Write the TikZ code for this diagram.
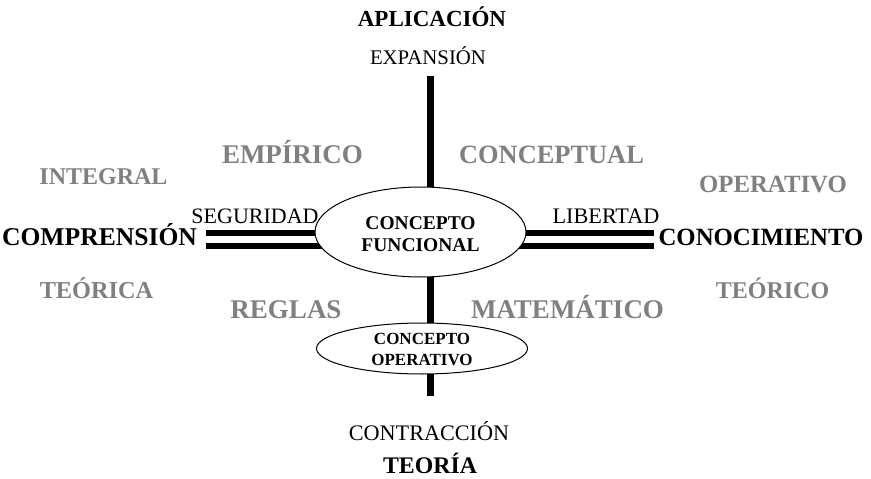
\documentclass[tikz,border=0pt]{standalone}
\usepackage{fontspec}
\setmainfont{Liberation Serif}
\usetikzlibrary{shapes.geometric,backgrounds}
\definecolor{labelgray}{RGB}{128,128,128}

\begin{document}
\begin{tikzpicture}[x=1pt,y=-1pt,
    pole/.style={anchor=base,font=\bfseries\fontsize{#1}{#1}\selectfont},
    plain word/.style={anchor=base,font=\fontsize{#1}{#1}\selectfont},
    grey word/.style={anchor=base,text=labelgray,font=\bfseries\fontsize{#1}{#1}\selectfont},
    concept/.style={ellipse,draw,line width=1pt,fill=white,inner sep=0pt,align=center,minimum width=211pt},
    axis line/.style={line width=7pt},
    rail/.style={double,line width=6pt,double distance=7pt}]
            \useasboundingbox (0,0) rectangle (871,479);

            \node[pole=23] (aplic) at (432,27) {APLICACIÓN};
            \node[plain word=20.8] (expan) at (428,64) {EXPANSIÓN};

            \node[grey word=27] (empir) at (292.5,163) {EMPÍRICO};
            \node[grey word=26.4] (concep) at (551.5,163) {CONCEPTUAL};
            \node[grey word=24] (integ) at (103.5,184) {INTEGRAL};
            \node[grey word=24.8] (opera) at (773,192) {OPERATIVO};

            \node[plain word=22] (segur) at (255,223) {SEGURIDAD};
            \node[plain word=22.2] (liber) at (606,223) {LIBERTAD};
            \node[pole=25.6] (compr) at (99.5,245) {COMPRENSIÓN};
            \node[pole=24.8] (conoc) at (761,245) {CONOCIMIENTO};

            \node[grey word=24.3] (teorica) at (96.5,298) {TEÓRICA};
            \node[grey word=24] (teorico) at (772.5,298) {TEÓRICO};
            \node[grey word=27] (reglas) at (286,318) {REGLAS};
            \node[grey word=27] (matem) at (567.5,318) {MATEMÁTICO};

            \node[plain word=22.2] (contr) at (429,440) {CONTRACCIÓN};
            \node[pole=23.8] (teoria) at (430,473) {TEORÍA};

            \node[concept,minimum height=90pt,text height=40pt,font=\bfseries\fontsize{19.5}{22}\selectfont] (func) at (420.5,232) {CONCEPTO\\FUNCIONAL};
            \node[concept,minimum height=51pt,text height=34.9pt,font=\bfseries\fontsize{17}{21}\selectfont] (oper) at (422,348.5) {CONCEPTO\\OPERATIVO};

            \coordinate (vtop) at (430,76);
            \coordinate (vbot) at (430,396);
            \coordinate (lrail) at (206,239.5);
            \coordinate (rrail) at (654,239.5);

            \begin{scope}[on background layer]
                \draw[axis line] (vtop) -- (vbot);
                \draw[rail] (lrail) -- (lrail -| func.center);
                \draw[rail] (rrail) -- (rrail -| func.center);
            \end{scope}
        \end{tikzpicture}
\end{document}
